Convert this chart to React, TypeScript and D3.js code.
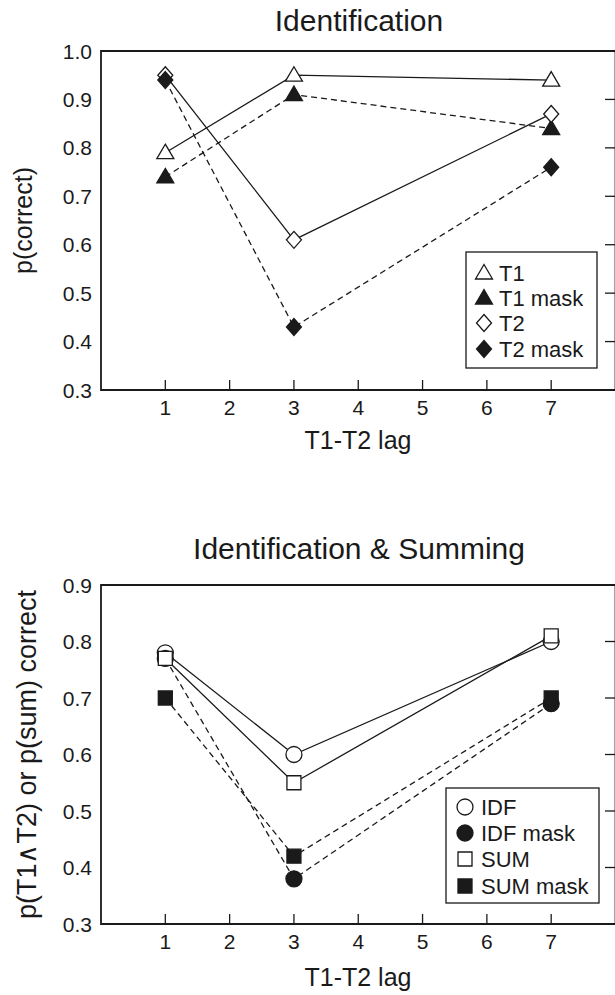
import React, { useEffect, useRef } from 'react';
import * as d3 from 'd3';

// lags on the x axis
const lags = [1, 3, 7];
const xTicks = [1, 2, 3, 4, 5, 6, 7];

// Identification panel
const t1 = [0.79, 0.95, 0.94];
const t1Mask = [0.74, 0.91, 0.84];
const t2 = [0.95, 0.61, 0.87];
const t2Mask = [0.94, 0.43, 0.76];
const yTicksTop = [0.3, 0.4, 0.5, 0.6, 0.7, 0.8, 0.9, 1.0];

// Identification & Summing panel
const idf = [0.78, 0.6, 0.8];
const idfMask = [0.77, 0.38, 0.69];
const sum = [0.77, 0.55, 0.81];
const sumMask = [0.7, 0.42, 0.7];
const yTicksBottom = [0.3, 0.4, 0.5, 0.6, 0.7, 0.8, 0.9];

const INK = '#1a1a1a';
const FONT = '"Liberation Sans", Arial, Helvetica, sans-serif';

const markerPath = (shape) => {
  switch (shape) {
    case 'triangle':
      return 'M0,-8.5L8.5,6L-8.5,6Z';
    case 'diamond':
      return 'M0,-8.5L7.5,0L0,8.5L-7.5,0Z';
    case 'circle':
      return 'M8,0A8,8 0 1,1 -8,0A8,8 0 1,1 8,0Z';
    default:
      return 'M-7,-7H7V7H-7Z';
  }
};

const panels = [
  {
    title: 'Identification',
    titleY: 31,
    ylabel: 'p(correct)',
    ylabelX: 32,
    ylabelSize: 25,
    top: 51,
    bottom: 390,
    domain: [0.3, 1.0],
    yTicks: yTicksTop,
    tickBaseline: 415,
    xlabelY: 449,
    legend: { x0: 466, x1: 597, y0: 252, y1: 368, rows: [273, 298, 323, 349], mx: 484, tx: 499 },
    series: [
      { name: 'T1', values: t1, shape: 'triangle', filled: false, dashed: false },
      { name: 'T1 mask', values: t1Mask, shape: 'triangle', filled: true, dashed: true },
      { name: 'T2', values: t2, shape: 'diamond', filled: false, dashed: false },
      { name: 'T2 mask', values: t2Mask, shape: 'diamond', filled: true, dashed: true },
    ],
  },
  {
    title: 'Identification & Summing',
    titleY: 559,
    ylabel: 'p(T1\u2227T2) or p(sum) correct',
    ylabelX: 36,
    ylabelSize: 27,
    top: 585,
    bottom: 924,
    domain: [0.3, 0.9],
    yTicks: yTicksBottom,
    tickBaseline: 949,
    xlabelY: 986,
    legend: { x0: 446, x1: 599, y0: 788, y1: 903, rows: [807, 833, 859, 886], mx: 465, tx: 481 },
    series: [
      { name: 'IDF', values: idf, shape: 'circle', filled: false, dashed: false },
      { name: 'IDF mask', values: idfMask, shape: 'circle', filled: true, dashed: true },
      { name: 'SUM', values: sum, shape: 'square', filled: false, dashed: false },
      { name: 'SUM mask', values: sumMask, shape: 'square', filled: true, dashed: true },
    ],
  },
];

const App = () => {
  const ref = useRef(null);

  useEffect(() => {
    const svg = d3.select(ref.current);
    svg.selectAll('*').remove();

    const x = d3.scaleLinear().domain([0, 8]).range([101, 615.5]);

    panels.forEach((p) => {
      const y = d3.scaleLinear().domain(p.domain).range([p.bottom, p.top]);
      const g = svg.append('g');

      // frame
      g.append('path')
        .attr('d', `M${x(8)},${p.top}H${x(0)}V${p.bottom}H${x(8)}V${p.top}`)
        .attr('fill', 'none')
        .attr('stroke', INK)
        .attr('stroke-width', 1.8);

      // x ticks (inward)
      g.selectAll('.xt')
        .data(xTicks)
        .join('line')
        .attr('x1', (d) => x(d))
        .attr('x2', (d) => x(d))
        .attr('y1', p.bottom)
        .attr('y2', p.bottom - 10)
        .attr('stroke', INK)
        .attr('stroke-width', 1.3);

      g.selectAll('.xl')
        .data(xTicks)
        .join('text')
        .attr('x', (d) => x(d))
        .attr('y', p.tickBaseline)
        .attr('text-anchor', 'middle')
        .style('font-family', FONT)
        .style('font-size', '21px')
        .attr('fill', INK)
        .text((d) => d);

      // right-hand ticks (inward)
      g.selectAll('.yt')
        .data(p.yTicks)
        .join('line')
        .attr('x1', 605)
        .attr('x2', 615)
        .attr('y1', (d) => y(d))
        .attr('y2', (d) => y(d))
        .attr('stroke', INK)
        .attr('stroke-width', 1.3);

      g.selectAll('.yl')
        .data(p.yTicks)
        .join('text')
        .attr('x', 92)
        .attr('y', (d) => y(d))
        .attr('dy', '0.36em')
        .attr('text-anchor', 'end')
        .style('font-family', FONT)
        .style('font-size', '21px')
        .attr('fill', INK)
        .text((d) => d3.format('.1f')(d));

      g.append('text')
        .attr('x', 359)
        .attr('y', p.titleY)
        .attr('text-anchor', 'middle')
        .style('font-family', FONT)
        .style('font-size', '30px')
        .attr('fill', INK)
        .text(p.title);

      g.append('text')
        .attr('x', 358)
        .attr('y', p.xlabelY)
        .attr('text-anchor', 'middle')
        .style('font-family', FONT)
        .style('font-size', '25px')
        .attr('fill', INK)
        .text('T1-T2 lag');

      g.append('text')
        .attr('transform', `translate(${p.ylabelX},${(p.top + p.bottom) / 2}) rotate(-90)`)
        .attr('text-anchor', 'middle')
        .style('font-family', FONT)
        .style('font-size', `${p.ylabelSize}px`)
        .attr('fill', INK)
        .text(p.ylabel);

      const line = d3
        .line()
        .x((d, i) => x(lags[i]))
        .y((d) => y(d));

      p.series.forEach((s) => {
        g.append('path')
          .attr('d', line(s.values))
          .attr('fill', 'none')
          .attr('stroke', INK)
          .attr('stroke-width', 1.3)
          .attr('stroke-dasharray', s.dashed ? '6,4' : null);
      });

      p.series.forEach((s) => {
        g.selectAll(null)
          .data(s.values)
          .join('path')
          .attr('transform', (d, i) => `translate(${x(lags[i])},${y(d)})`)
          .attr('d', markerPath(s.shape))
          .attr('fill', s.filled ? INK : 'white')
          .attr('stroke', INK)
          .attr('stroke-width', 1.3);
      });

      // legend
      const L = p.legend;
      g.append('rect')
        .attr('x', L.x0)
        .attr('y', L.y0)
        .attr('width', L.x1 - L.x0)
        .attr('height', L.y1 - L.y0)
        .attr('fill', 'white')
        .attr('stroke', INK)
        .attr('stroke-width', 1.3);

      p.series.forEach((s, i) => {
        g.append('path')
          .attr('transform', `translate(${L.mx},${L.rows[i]})`)
          .attr('d', markerPath(s.shape))
          .attr('fill', s.filled ? INK : 'white')
          .attr('stroke', INK)
          .attr('stroke-width', 1.3);
        g.append('text')
          .attr('x', L.tx)
          .attr('y', L.rows[i])
          .attr('dy', '0.36em')
          .style('font-family', FONT)
          .style('font-size', '22px')
          .attr('fill', INK)
          .text(s.name);
      });
    });
  }, []);

  return (
    <div style={{ position: 'absolute', left: 0, top: 0 }}>
      <svg ref={ref} width={615} height={995} style={{ display: 'block', background: 'white' }} />
    </div>
  );
};

export default App;
